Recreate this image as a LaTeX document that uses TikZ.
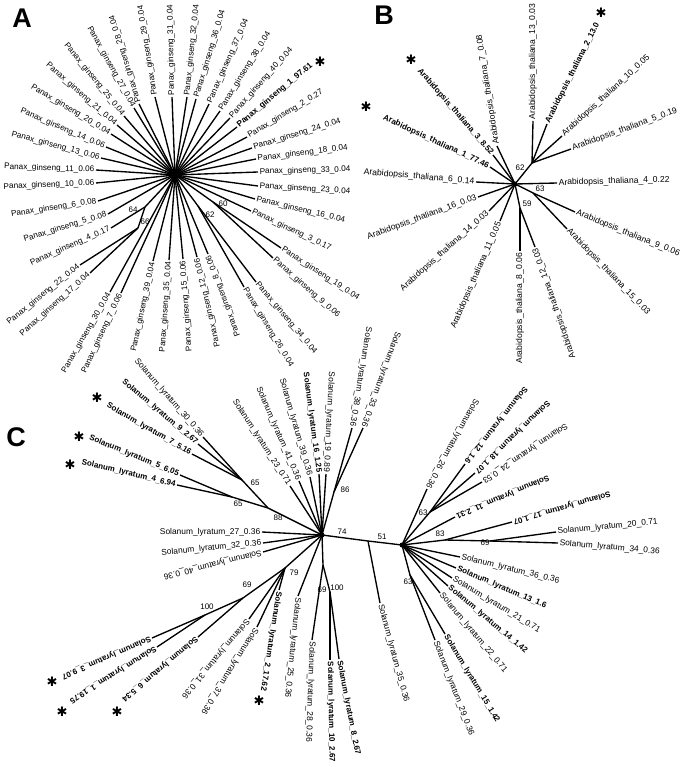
\documentclass[tikz,border=0pt]{standalone}
\usepackage{fontspec}
\setmainfont{Liberation Sans}
\newfontfamily\dvs{DejaVu Sans}
\newcommand\PG[1]{Panax\_ginseng\_#1}
\newcommand\AT[1]{Arabidopsis\_thaliana\_#1}
\newcommand\SL[1]{Solanum\_lyratum\_#1}
% parent, end, name, rotation, anchor, text, style
\newcommand\lfx[7]{\coordinate (#3e) at (#2); \draw[br] (#1) -- (#3e); \node[#7, rotate=#4, anchor=#5] (#3) at (#3e) {#6};}
\tikzset{
 br/.style={line width=1.35pt},
 laba/.style={font=\fontsize{8.2}{9}\selectfont, inner sep=1.5pt},
 labab/.style={font=\fontsize{8.3}{9}\selectfont\bfseries, inner sep=1.5pt},
 labbb/.style={font=\fontsize{8.6}{9}\selectfont, inner sep=1.5pt},
 labbbb/.style={font=\fontsize{8.1}{9}\selectfont\bfseries, inner sep=1.5pt},
 labc/.style={font=\fontsize{8.4}{9}\selectfont, inner sep=1.5pt},
 labcb/.style={font=\fontsize{8}{9}\selectfont\bfseries, inner sep=1.5pt},
 supp/.style={font=\fontsize{8}{9}\selectfont, inner sep=0pt},
 starm/.style={font=\dvs\fontsize{13}{13}\selectfont\bfseries, inner sep=0pt},
 panel/.style={font=\fontsize{27}{27}\selectfont\bfseries, inner sep=0pt}
}
\begin{document}
\begin{tikzpicture}[x=1pt,y=-1pt]
\useasboundingbox (0,0) rectangle (687,767);
\node[panel] (pA) at (22,18) {A};
\node[panel] (pB) at (384,15) {B};
\node[panel] (pC) at (16,437) {C};
% ---------------- Panel A
\coordinate (A0) at (175,175);
\coordinate (a60) at (213,202);
\coordinate (a62) at (198,206);
\coordinate (a64) at (145,207);
\coordinate (a66) at (138,228);
\fill (A0) circle (4.5);
\draw[br] (A0) -- (a60); \draw[br] (A0) -- (a62); \draw[br] (A0) -- (a64); \draw[br] (a64) -- (a66);
\lfx{A0}{172,97}{a31}{91}{west}{\PG{31\_0.04}}{laba}
\lfx{A0}{155,97}{a29}{99}{west}{\PG{29\_0.04}}{laba}
\lfx{A0}{139,104}{a28}{107}{west}{\PG{28\_0.04}}{laba}
\lfx{A0}{187,97}{a32}{84}{west}{\PG{32\_0.04}}{laba}
\lfx{A0}{196,99}{a36}{73}{west}{\PG{36\_0.04}}{laba}
\lfx{A0}{209,104}{a37}{66}{west}{\PG{37\_0.04}}{laba}
\lfx{A0}{220,111}{a38}{58}{west}{\PG{38\_0.04}}{laba}
\lfx{A0}{230,118}{a40}{48.5}{west}{\PG{40\_0.04}}{laba}
\lfx{A0}{237,127}{a1}{40}{west}{\PG{1\_97.61}}{labab}
\lfx{A0}{247,137}{a2}{31}{west}{\PG{2\_0.27}}{laba}
\lfx{A0}{252,148}{a24}{17}{west}{\PG{24\_0.04}}{laba}
\lfx{A0}{256,159}{a18}{7}{west}{\PG{18\_0.04}}{laba}
\lfx{A0}{258,172}{a33}{1.5}{west}{\PG{33\_0.04}}{laba}
\lfx{A0}{258,186}{a23}{-3.5}{west}{\PG{23\_0.04}}{laba}
\lfx{A0}{255,199}{a16}{-13.5}{west}{\PG{16\_0.04}}{laba}
\lfx{A0}{251,211}{a3}{-25}{west}{\PG{3\_0.17}}{laba}
\lfx{a60}{281,248}{a19}{-33}{west}{\PG{19\_0.04}}{laba}
\lfx{a60}{273,258}{a9}{-41.5}{west}{\PG{9\_0.06}}{laba}
\lfx{a62}{256,282}{a34}{-50}{west}{\PG{34\_0.04}}{laba}
\lfx{a62}{244,287}{a26}{-59}{west}{\PG{26\_0.04}}{laba}
\lfx{A0}{134,108}{a27}{-61}{east}{\PG{27\_0.04}}{laba}
\lfx{A0}{124,116}{a25}{-51}{east}{\PG{25\_0.04}}{laba}
\lfx{A0}{117,125}{a21}{-41}{east}{\PG{21\_0.04}}{laba}
\lfx{A0}{111,134}{a20}{-31}{east}{\PG{20\_0.04}}{laba}
\lfx{A0}{106,147}{a14}{-23}{east}{\PG{14\_0.06}}{laba}
\lfx{A0}{101,158}{a13}{-15}{east}{\PG{13\_0.06}}{laba}
\lfx{A0}{96,170}{a11}{-2}{east}{\PG{11\_0.06}}{laba}
\lfx{A0}{96,183}{a10}{2.5}{east}{\PG{10\_0.06}}{laba}
\lfx{A0}{98,201}{a6}{9}{east}{\PG{6\_0.08}}{laba}
\lfx{A0}{108,214}{a5}{17}{east}{\PG{5\_0.08}}{laba}
\lfx{a64}{111,228}{a4}{24}{east}{\PG{4\_0.17}}{laba}
\lfx{a66}{80,265}{a22}{39}{east}{\PG{22\_0.04}}{laba}
\lfx{a66}{90,273}{a17}{42}{east}{\PG{17\_0.04}}{laba}
\lfx{A0}{110,292}{a30}{60}{east}{\PG{30\_0.04}}{laba}
\lfx{A0}{121,293}{a7}{65}{east}{\PG{7\_0.06}}{laba}
\lfx{A0}{153,261}{a39}{78}{east}{\PG{39\_0.04}}{laba}
\lfx{A0}{169,260}{a35}{86}{east}{\PG{35\_0.04}}{laba}
\lfx{A0}{183,259}{a15}{94}{east}{\PG{15\_0.06}}{laba}
\lfx{A0}{197,257}{a12}{103}{east}{\PG{12\_0.06}}{laba}
\lfx{A0}{208,254}{a8}{110}{east}{\PG{8\_0.06}}{laba}
\node[supp] (sa64) at (133,210) {64};
\node[supp] (sa66) at (145,222) {66};
\node[supp] (sa60) at (223,204) {60};
\node[supp] (sa62) at (210,215) {62};
\node[starm] (stA1) at (320,62) {✱};
% ---------------- Panel B
\coordinate (B0) at (515,184);
\coordinate (b62) at (532,163);
\coordinate (b63) at (533,193);
\coordinate (b59) at (520,208);
\fill (B0) circle (2.5);
\draw[br] (B0) -- (b62); \draw[br] (B0) -- (b63); \draw[br] (B0) -- (b59);
\lfx{B0}{497,146}{b7}{99}{west}{\AT{7\_0.08}}{labbb}
\lfx{b62}{533,121}{b13}{90}{west}{\AT{13\_0.03}}{labbb}
\lfx{b62}{547,124}{b2}{63.4}{west}{\AT{2\_13.0}}{labbbb}
\lfx{b62}{562,136}{b10}{42.5}{west}{\AT{10\_0.05}}{labbb}
\lfx{b62}{571,149}{b5}{20}{west}{\AT{5\_0.19}}{labbb}
\lfx{B0}{557,183}{b4}{1.5}{west}{\AT{4\_0.22}}{labbb}
\lfx{b63}{575,212}{b9}{-22}{west}{\AT{9\_0.06}}{labbb}
\lfx{b63}{567,229}{b15}{-46}{west}{\AT{15\_0.03}}{labbb}
\lfx{b59}{535,247}{b12}{109}{east}{\AT{12\_0.03}}{labbb}
\lfx{b59}{520,251}{b8}{90}{east}{\AT{8\_0.06}}{labbb}
\lfx{B0}{500,221}{b11}{66.4}{east}{\AT{11\_0.05}}{labbb}
\lfx{B0}{489,211}{b14}{42}{east}{\AT{14\_0.03}}{labbb}
\lfx{B0}{478,197}{b16}{20}{east}{\AT{16\_0.03}}{labbb}
\lfx{B0}{476,182}{b6}{-5}{east}{\AT{6\_0.14}}{labbb}
\lfx{B0}{490,167}{b1}{-25}{east}{\AT{1\_77.46}}{labbbb}
\lfx{B0}{493,155}{b3}{-49}{east}{\AT{3\_8.52}}{labbbb}
\node[supp] (sb62) at (520,168) {62};
\node[supp] (sb63) at (540,189) {63};
\node[supp] (sb59) at (527,204) {59};
\node[starm] (stB1) at (366,107) {✱};
\node[starm] (stB3) at (411,60) {✱};
\node[starm] (stB2) at (601,13) {✱};
% ---------------- Panel C
\coordinate (L0) at (322,535);
\coordinate (M) at (368,541);
\coordinate (R0) at (402,545);
\coordinate (c86) at (334,492);
\coordinate (c65a) at (242,480);
\coordinate (c65b) at (232,497);
\coordinate (c88) at (268,508);
\coordinate (c79) at (285,568);
\coordinate (c69L) at (243,598);
\coordinate (c100L) at (205,615);
\coordinate (c69b) at (323,565);
\coordinate (c100b) at (330,592);
\coordinate (c63a) at (430,512);
\coordinate (c83) at (445,540);
\coordinate (c69R) at (490,541);
\coordinate (c63b) at (410,575);
\fill (L0) circle (2.5);
\fill (R0) circle (2.5);
\draw[br] (L0) -- (M) -- (R0);
\draw[br] (L0) -- (c86); \draw[br] (L0) -- (c88); \draw[br] (c88) -- (c65a); \draw[br] (c88) -- (c65b);
\draw[br] (L0) -- (c79); \draw[br] (c79) -- (c69L); \draw[br] (c69L) -- (c100L);
\draw[br] (L0) -- (c69b); \draw[br] (c69b) -- (c100b);
\draw[br] (R0) -- (c63a); \draw[br] (R0) -- (c83); \draw[br] (c83) -- (c69R); \draw[br] (R0) -- (c63b);
\lfx{c65a}{203,437}{c30}{-49}{east}{\SL{30\_0.36}}{labc}
\lfx{c65a}{198,444}{c9}{-40}{east}{\SL{9\_2.67}}{labcb}
\lfx{c65a}{192,454}{c7}{-30}{east}{\SL{7\_5.16}}{labcb}
\lfx{c65b}{180,475}{c5}{-22.4}{east}{\SL{5\_6.05}}{labcb}
\lfx{c65b}{177,485}{c4}{-13.3}{east}{\SL{4\_6.94}}{labcb}
\lfx{L0}{290,486}{c23}{-57}{east}{\SL{23\_0.71}}{labc}
\lfx{L0}{299,481}{c41}{-66.5}{east}{\SL{41\_0.36}}{labc}
\lfx{L0}{310,477}{c39}{-74}{east}{\SL{39\_0.36}}{labc}
\lfx{L0}{319,474}{c16}{-82.5}{east}{\SL{16\_1.25}}{labcb}
\lfx{L0}{326,474}{c19}{-93}{east}{\SL{19\_0.89}}{labc}
\lfx{c86}{352,428}{c38}{-99.4}{east}{\SL{38\_0.36}}{labc}
\lfx{c86}{363,428}{c33}{-110}{east}{\SL{33\_0.36}}{labc}
\lfx{L0}{262,532}{c27}{0}{east}{\SL{27\_0.36}}{labc}
\lfx{L0}{263,543}{c32}{5.7}{east}{\SL{32\_0.36}}{labc}
\lfx{R0}{427,489}{c26}{-119}{east}{\SL{26\_0.36}}{labc}
\lfx{c63a}{465,464}{c12}{-128.5}{east}{\SL{12\_1.6}}{labcb}
\lfx{c63a}{475,473}{c18}{-136}{east}{\SL{18\_1.07}}{labcb}
\lfx{c63a}{482,482}{c24}{-146}{east}{\SL{24\_0.53}}{labc}
\lfx{R0}{455,517}{c11}{-157}{east}{\SL{11\_2.31}}{labcb}
\lfx{c83}{512,522}{c17}{-164}{east}{\SL{17\_1.07}}{labcb}
\lfx{L0}{263,552}{c40}{-166}{west}{\SL{40\_0.36}}{labc}
\lfx{c100L}{152,638}{c3}{-156.6}{west}{\SL{3\_9.07}}{labcb}
\lfx{c100L}{157,647}{c1}{-148}{west}{\SL{1\_19.75}}{labcb}
\lfx{c69L}{198,637}{c6}{-140}{west}{\SL{6\_5.34}}{labcb}
\lfx{c79}{249,619}{c31}{-130}{west}{\SL{31\_0.36}}{labc}
\lfx{c79}{257,627}{c37}{-122}{west}{\SL{37\_0.36}}{labc}
\lfx{c79}{279,590}{c2}{-99}{west}{\SL{2\_17.62}}{labcb}
\lfx{L0}{298,596}{c25}{-96}{west}{\SL{25\_0.36}}{labc}
\lfx{c69b}{312,640}{c28}{-92}{west}{\SL{28\_0.36}}{labc}
\lfx{c100b}{330,660}{c10}{-89}{west}{\SL{10\_2.67}}{labcb}
\lfx{c100b}{339,659}{c8}{-79}{west}{\SL{8\_2.67}}{labcb}
\lfx{M}{380,603}{c35}{-75}{west}{\SL{35\_0.36}}{labc}
\lfx{c63b}{435,640}{c29}{-69}{west}{\SL{29\_0.36}}{labc}
\lfx{c63b}{445,634}{c15}{-59}{west}{\SL{15\_1.42}}{labcb}
\lfx{R0}{440,593}{c22}{-50}{west}{\SL{22\_0.71}}{labc}
\lfx{R0}{448,586}{c14}{-40}{west}{\SL{14\_1.42}}{labcb}
\lfx{R0}{452,578}{c21}{-31}{west}{\SL{21\_0.71}}{labc}
\lfx{R0}{456,568}{c13}{-23}{west}{\SL{13\_1.6}}{labcb}
\lfx{R0}{460,557}{c36}{-13.6}{west}{\SL{36\_0.36}}{labc}
\lfx{c69R}{558,543}{c34}{-5}{west}{\SL{34\_0.36}}{labc}
\lfx{c69R}{556,532}{c20}{5.7}{west}{\SL{20\_0.71}}{labc}
\node[supp] (sc86) at (345,490) {86};
\node[supp] (sc65a) at (255,483) {65};
\node[supp] (sc65b) at (238,504) {65};
\node[supp] (sc88) at (278,518) {88};
\node[supp] (sc74) at (342,532) {74};
\node[supp] (sc51) at (382,537) {51};
\node[supp] (sc79) at (294,573) {79};
\node[supp] (sc69L) at (247,585) {69};
\node[supp] (sc100L) at (207,607) {100};
\node[supp] (sc69b) at (322,590) {69};
\node[supp] (sc100b) at (337,588) {100};
\node[supp] (sc63a) at (423,513) {63};
\node[supp] (sc83) at (440,534) {83};
\node[supp] (sc69R) at (485,543) {69};
\node[supp] (sc63b) at (408,582) {63};
\node[starm] (stC7) at (97,398) {✱};
\node[starm] (stC5) at (79,437) {✱};
\node[starm] (stC4) at (70,465) {✱};
\node[starm] (stC3) at (52,682) {✱};
\node[starm] (stC1) at (62,712) {✱};
\node[starm] (stC6) at (117,712) {✱};
\node[starm] (stC2) at (259,701) {✱};
\end{tikzpicture}
\end{document}
